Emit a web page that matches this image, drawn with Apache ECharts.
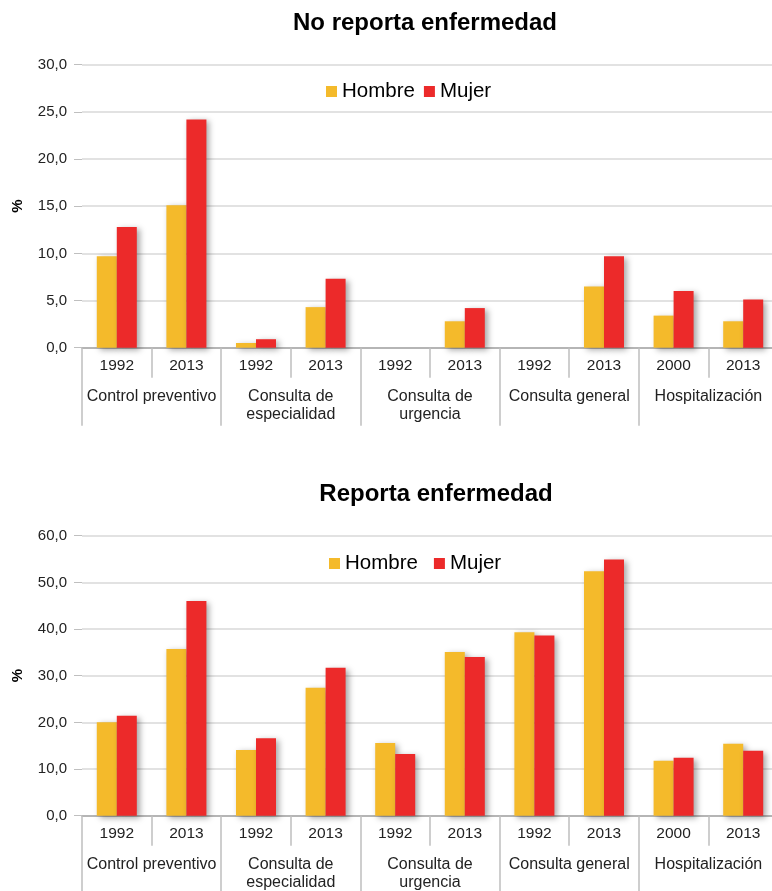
<!DOCTYPE html>
<html>
<head>
<meta charset="utf-8">
<script src="https://cdn.jsdelivr.net/npm/echarts@6/dist/echarts.min.js"></script>
<style>
  html, body { margin: 0; padding: 0; background: #fff; }
  #main { width: 772px; height: 891px; }
</style>
</head>
<body>
<div id="main"></div>
<script>
// datos
const years = ['1992', '2013', '1992', '2013', '1992', '2013', '1992', '2013', '2000', '2013']
const groups = ['Control preventivo', 'Consulta de\nespecialidad', 'Consulta de\nurgencia', 'Consulta general', 'Hospitalización']

const noReportaHombre = [9.7, 15.1, 0.5, 4.3, null, 2.8, null, 6.5, 3.4, 2.8]
const noReportaMujer = [12.8, 24.2, 0.9, 7.3, null, 4.2, null, 9.7, 6.0, 5.1]

const reportaHombre = [20.0, 35.7, 14.1, 27.4, 15.6, 35.1, 39.3, 52.4, 11.8, 15.4]
const reportaMujer = [21.4, 46.0, 16.6, 31.7, 13.2, 34.0, 38.6, 54.9, 12.4, 13.9]

const colorHombre = '#F4BA2B'
const colorMujer = '#EC2A2A'
const font = 'Liberation Sans, Arial, sans-serif'

let chart = echarts.init(document.getElementById('main'))

function grid(top, height) {
  return { left: 82, top: top, width: 696, height: height, containLabel: false, outerBoundsMode: 'none' }
}

function yAxis(idx, max, interval) {
  return {
    type: 'value',
    gridIndex: idx,
    min: 0,
    max: max,
    interval: interval,
    name: '%',
    nameLocation: 'middle',
    nameRotate: 90,
    nameGap: 57,
    nameTextStyle: { fontFamily: font, fontSize: 15, fontWeight: 'bold', color: '#000' },
    axisLine: { show: false },
    axisTick: { show: true, length: 8, lineStyle: { color: '#bfbfbf' } },
    axisLabel: {
      margin: 15,
      fontFamily: font,
      fontSize: 15,
      color: '#222',
      formatter: v => v.toFixed(1).replace('.', ',')
    },
    splitLine: { lineStyle: { color: '#d9d9d9', width: 1.5 } }
  }
}

function xAxes(idx) {
  return [
    {
      type: 'category',
      gridIndex: idx,
      data: years,
      position: 'bottom',
      axisLine: { lineStyle: { color: '#a6a6a6', width: 1.5 } },
      axisTick: { show: true, length: 30, interval: 0, lineStyle: { color: '#bfbfbf', width: 1.5 } },
      axisLabel: { interval: 0, margin: 10, fontFamily: font, fontSize: 15.5, color: '#222' }
    },
    {
      type: 'category',
      gridIndex: idx,
      data: groups,
      position: 'bottom',
      offset: 0,
      axisLine: { show: false },
      axisTick: { show: true, length: 78, interval: 0, lineStyle: { color: '#bfbfbf', width: 1.5 } },
      axisLabel: { interval: 0, margin: 40, lineHeight: 18, fontFamily: font, fontSize: 16, color: '#222' }
    }
  ]
}

function barSeries(name, data, color, gi) {
  return {
    name: name,
    type: 'bar',
    xAxisIndex: gi * 2,
    yAxisIndex: gi,
    data: data,
    barWidth: 20,
    barGap: '0%',
    itemStyle: {
      color: color,
      shadowColor: 'rgba(0,0,0,0.35)',
      shadowBlur: 6,
      shadowOffsetX: 3,
      shadowOffsetY: 2
    }
  }
}

function legend(left, top, gap) {
  return {
    data: ['Hombre', 'Mujer'], left: left, top: top, itemWidth: 11, itemHeight: 11, itemGap: gap,
    icon: 'rect', textStyle: { fontFamily: font, fontSize: 20.5, color: '#000' }
  }
}

let option = {
  animation: false,
  backgroundColor: '#fff',
  title: [
    { text: 'No reporta enfermedad', left: 420, top: 6, textAlign: 'center',
      textStyle: { fontFamily: font, fontSize: 24, fontWeight: 'bold', color: '#000' } },
    { text: 'Reporta enfermedad', left: 431, top: 477, textAlign: 'center',
      textStyle: { fontFamily: font, fontSize: 24, fontWeight: 'bold', color: '#000' } }
  ],
  legend: [legend(321, 76, 9), legend(324, 548, 16)],
  grid: [grid(64.7, 283), grid(535.7, 280)],
  xAxis: xAxes(0).concat(xAxes(1)),
  yAxis: [yAxis(0, 30, 5), yAxis(1, 60, 10)],
  series: [
    barSeries('Hombre', noReportaHombre, colorHombre, 0),
    barSeries('Mujer', noReportaMujer, colorMujer, 0),
    barSeries('Hombre', reportaHombre, colorHombre, 1),
    barSeries('Mujer', reportaMujer, colorMujer, 1)
  ]
}

chart.setOption(option)
</script>
</body>
</html>
